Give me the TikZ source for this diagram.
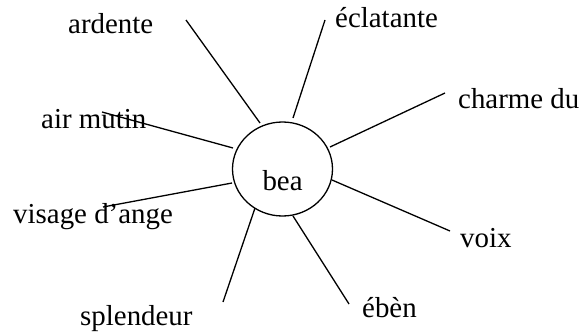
\documentclass[tikz,border=0pt]{standalone}
\usepackage{fontspec}
\setmainfont{Liberation Serif}
\usetikzlibrary{shapes.geometric}
\begin{document}
\begin{tikzpicture}[x=1pt,y=-1pt,
  lbl/.style={anchor=base west,inner sep=0pt,font=\fontsize{28.9}{34}\selectfont},
  ray/.style={line width=1.3pt}]
\useasboundingbox (0,0) rectangle (585,332);
\node[ellipse,draw,line width=1.3pt,minimum width=100pt,minimum height=94pt,inner sep=0pt] (c) at (282.5,169) {};
\node[lbl] (bea) at (262.3,190) {bea};
\node[lbl] (ardente) at (68,33) {ardente};
\node[lbl] (eclat) at (335,27) {éclatante};
\node[lbl] (charme) at (458,108) {charme du};
\node[lbl] (mutin) at (41,128) {air mutin};
\node[lbl] (visage) at (13,223) {visage d’ange};
\node[lbl] (splend) at (80,325) {splendeur};
\node[lbl] (voix) at (460,247) {voix};
\node[lbl] (eben) at (362,317) {ébèn};
\coordinate (a1) at (186,20);  \coordinate (a2) at (260,123);
\coordinate (e1) at (325,20);  \coordinate (e2) at (293,118);
\coordinate (h1) at (445,93);  \coordinate (h2) at (330,147);
\coordinate (m1) at (102,112); \coordinate (m2) at (233,148);
\coordinate (v1) at (103,207); \coordinate (v2) at (232,183);
\coordinate (s1) at (223,302); \coordinate (s2) at (255,208);
\coordinate (x1) at (332,180); \coordinate (x2) at (450,231);
\coordinate (b1) at (293,216); \coordinate (b2) at (349,304);
\draw[ray] (a1) -- (a2);
\draw[ray] (e1) -- (e2);
\draw[ray] (h1) -- (h2);
\draw[ray] (m1) -- (m2);
\draw[ray] (v1) -- (v2);
\draw[ray] (s1) -- (s2);
\draw[ray] (x1) -- (x2);
\draw[ray] (b1) -- (b2);
\end{tikzpicture}
\end{document}
